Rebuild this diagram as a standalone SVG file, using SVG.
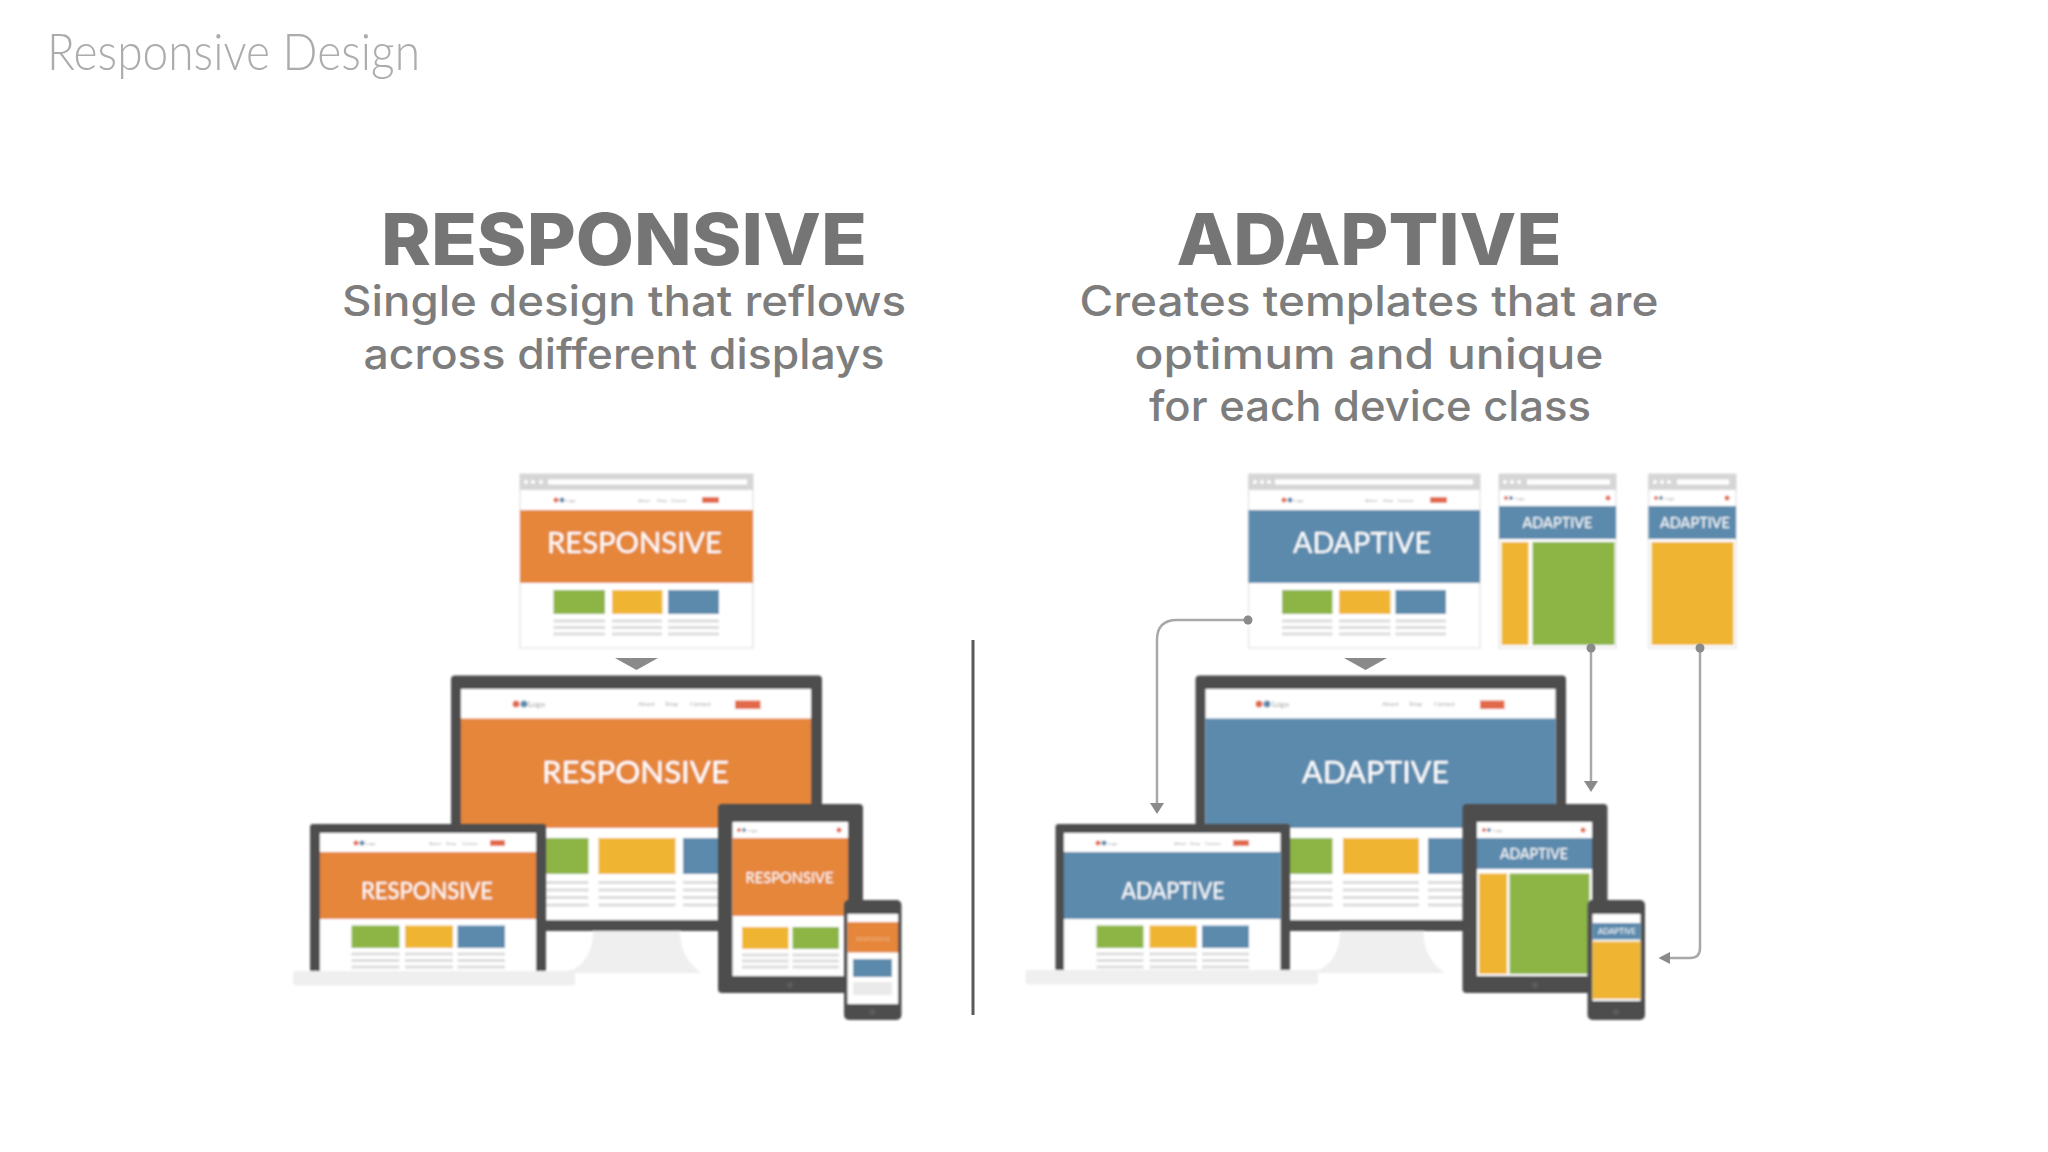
<svg xmlns="http://www.w3.org/2000/svg" width="2048" height="1152" viewBox="0 0 2048 1152">
<style>
text{font-family:"Lato","Liberation Sans",sans-serif}
.ttl{font-size:51px;font-weight:300;fill:#acacac}
.hd{font-family:"Inter","Liberation Sans",sans-serif;font-size:71px;font-weight:800;fill:#757575;text-anchor:middle}
.sub{font-family:"Inter","Liberation Sans",sans-serif;font-size:42px;font-weight:500;fill:#7d7d7d;text-anchor:middle}
.sc{fill:#fff;text-anchor:middle}
.mini{fill:#a8a8a8;font-size:4.5px}
.nav6{fill:#a8a8a8;font-size:6px}
.logo8{fill:#999;font-size:8px}
.dk{fill:#4d4d4d}.wh{fill:#fff}.or{fill:#e5863a}.bl{fill:#5b8aad}.gr{fill:#8db544}.ye{fill:#efb532}.rd{fill:#e2694a}.ch{fill:#d6d6d6}.bs{fill:#efefef}
.fr{fill:#fff;stroke:#e6e6e6;stroke-width:1.5}
.ln{stroke:#dcdcdc;stroke-width:3;fill:none}
.cn{stroke:#a8a8a8;stroke-width:2.5;fill:none}
.ah{fill:#8a8a8a}
.soft{filter:url(#b)}
</style>
<defs>
<filter id="b" x="-5%" y="-5%" width="110%" height="110%"><feGaussianBlur stdDeviation="0.8"/></filter>
</defs>
<rect width="2048" height="1152" fill="#fff"/>

<text id="title" class="ttl" x="47" y="70" textLength="373" lengthAdjust="spacingAndGlyphs">Responsive Design</text>

<g id="responsive-heading">
<text class="hd" x="624" y="265" textLength="486" lengthAdjust="spacingAndGlyphs">RESPONSIVE</text>
<text class="sub" x="624" y="316" textLength="564" lengthAdjust="spacingAndGlyphs">Single design that reflows</text>
<text class="sub" x="624" y="369" textLength="521" lengthAdjust="spacingAndGlyphs">across different displays</text>
</g>
<g id="adaptive-heading">
<text class="hd" x="1369" y="265" textLength="385" lengthAdjust="spacingAndGlyphs">ADAPTIVE</text>
<text class="sub" x="1369" y="316" textLength="579" lengthAdjust="spacingAndGlyphs">Creates templates that are</text>
<text class="sub" x="1369" y="369" textLength="469" lengthAdjust="spacingAndGlyphs">optimum and unique</text>
<text class="sub" x="1370" y="421" textLength="442" lengthAdjust="spacingAndGlyphs">for each device class</text>
</g>

<g id="resp-browser" class="soft">
<rect class="fr" x="520" y="474" width="233" height="174"/>
<rect class="ch" x="520" y="474" width="233" height="16"/>
<rect class="wh" x="548" y="479.500" width="199" height="5"/><circle class="wh" cx="526" cy="482" r="2"/><circle class="wh" cx="533" cy="482" r="2"/><circle class="wh" cx="541" cy="482" r="2"/>
<circle class="rd" cx="556" cy="500" r="2.500"/><circle class="bl" cx="562" cy="500" r="2.500"/><text class="mini" x="566" y="502">Logo</text>
<text class="mini" x="638" y="502">About</text><text class="mini" x="657" y="502">Shop</text><text class="mini" x="671" y="502">Contact</text>
<rect class="rd" x="702" y="497" width="17" height="6"/>
<rect class="or" x="520" y="510" width="233" height="73"/>
<text class="sc" x="634.500" y="553" font-size="28" textLength="175" lengthAdjust="spacingAndGlyphs">RESPONSIVE</text>
<rect class="gr" x="553.500" y="590" width="51.500" height="24"/><rect class="ye" x="612" y="590" width="50.500" height="24"/><rect class="bl" x="668" y="590" width="51" height="24"/>
<path class="ln" d="M553.500 621H605M612 621H662M668 621H719M553.500 627.500H605M612 627.500H662M668 627.500H719M553.500 634H605M612 634H662M668 634H719"/>
</g>
<polygon id="resp-down" class="ah" points="615,658 658,658 636.500,670"/>

<g id="resp-monitor" class="soft">
<path class="bs" d="M593 931C593 958 578 973 556 973H701C692 965 680 955 680 931Z"/>
<rect class="dk" x="451" y="675.500" width="371" height="255.500" rx="4"/>
<rect class="wh" x="461" y="689" width="350" height="231"/>
<circle class="rd" cx="516" cy="704" r="3.500"/><circle class="bl" cx="524" cy="704" r="3.500"/><text class="logo8" x="528" y="707">Logo</text>
<text class="nav6" x="638" y="706">About</text><text class="nav6" x="665" y="706">Shop</text><text class="nav6" x="690" y="706">Contact</text>
<rect class="rd" x="735" y="700.500" width="25.500" height="8.500"/>
<rect class="or" x="461" y="718.500" width="350" height="109.500"/>
<text class="sc" x="635.500" y="783" font-size="31" textLength="187" lengthAdjust="spacingAndGlyphs">RESPONSIVE</text>
<rect class="gr" x="530" y="838" width="58.500" height="36"/><rect class="ye" x="598.500" y="838" width="77" height="36"/><rect class="bl" x="683" y="838" width="60" height="36"/>
<path class="ln" d="M530 882.500H588.500M598.500 882.500H675.500M683 882.500H743M530 890H588.500M598.500 890H675.500M683 890H743M530 897.500H588.500M598.500 897.500H675.500M683 897.500H743M530 905H588.500M598.500 905H675.500M683 905H743"/>
</g>

<g id="resp-laptop" class="soft">
<rect class="dk" x="310" y="824" width="236" height="150" rx="3"/>
<rect class="wh" x="320" y="833" width="216" height="140"/>
<circle class="rd" cx="356" cy="843" r="2.500"/><circle class="bl" cx="362" cy="843" r="2.500"/><text class="mini" x="366" y="845">Logo</text>
<text class="mini" x="429" y="845">About</text><text class="mini" x="446" y="845">Shop</text><text class="mini" x="462" y="845">Contact</text>
<rect class="rd" x="490" y="840" width="15" height="6"/>
<rect class="or" x="320" y="852" width="216" height="67"/>
<text class="sc" x="427" y="899" font-size="24" textLength="132" lengthAdjust="spacingAndGlyphs">RESPONSIVE</text>
<rect class="gr" x="351.500" y="925.500" width="48" height="22.500"/><rect class="ye" x="405" y="925.500" width="48" height="22.500"/><rect class="bl" x="457.500" y="925.500" width="47.500" height="22.500"/>
<path class="ln" d="M351.500 954H399.500M405 954H453M457.500 954H505M351.500 960.500H399.500M405 960.500H453M457.500 960.500H505M351.500 967H399.500M405 967H453M457.500 967H505"/>
<rect class="bs" x="293" y="971" width="282" height="14.500" rx="3"/>
</g>

<g id="resp-tablet" class="soft">
<rect class="dk" x="718" y="804" width="145" height="189" rx="4"/>
<rect class="wh" x="732.500" y="822" width="115.500" height="154"/>
<circle class="rd" cx="739" cy="830" r="2"/><circle class="bl" cx="744" cy="830" r="2"/><text class="mini" x="748" y="832">Logo</text>
<circle class="rd" cx="839" cy="830" r="2.500"/>
<rect class="or" x="732.500" y="838" width="115.500" height="78"/>
<text class="sc" x="789.500" y="883" font-size="15.500" textLength="88" lengthAdjust="spacingAndGlyphs">RESPONSIVE</text>
<rect class="ye" x="742" y="927" width="46.500" height="22"/><rect class="gr" x="792.500" y="927" width="46.500" height="22"/>
<path class="ln" d="M742 955H788.500M792.500 955H839M742 961H788.500M792.500 961H839M742 967H788.500M792.500 967H839"/>
<circle cx="790" cy="985" r="3" fill="#5c5c5c"/>
</g>

<g id="resp-phone" class="soft">
<rect class="dk" x="844" y="900" width="57.500" height="120" rx="5"/>
<rect class="wh" x="847.500" y="914" width="50.500" height="90"/>
<rect class="or" x="847.500" y="922" width="50.500" height="30.500"/>
<text x="873" y="941" font-size="6" fill="#f0b98a" text-anchor="middle" textLength="34" lengthAdjust="spacingAndGlyphs">RESPONSIVE</text>
<rect class="bl" x="853" y="959" width="39" height="18"/>
<rect class="ch" x="853" y="982" width="39" height="13" opacity=".5"/>
<circle cx="872.500" cy="1012" r="3" fill="#5c5c5c"/>
</g>

<rect id="divider" x="971.500" y="640" width="3" height="375" fill="#5a5a5a"/>

<g id="adpt-browser" class="soft">
<rect class="fr" x="1248.500" y="474" width="231.500" height="174"/>
<rect class="ch" x="1248.500" y="474" width="231.500" height="16"/>
<rect class="wh" x="1275" y="479.500" width="198" height="5"/><circle class="wh" cx="1255" cy="482" r="2"/><circle class="wh" cx="1262" cy="482" r="2"/><circle class="wh" cx="1269" cy="482" r="2"/>
<circle class="rd" cx="1284" cy="500" r="2.500"/><circle class="bl" cx="1290" cy="500" r="2.500"/><text class="mini" x="1294" y="502">Logo</text>
<text class="mini" x="1365" y="502">About</text><text class="mini" x="1383" y="502">Shop</text><text class="mini" x="1398" y="502">Contact</text>
<rect class="rd" x="1430" y="497" width="17" height="6"/>
<rect class="bl" x="1248.500" y="510" width="231.500" height="73"/>
<text class="sc" x="1362" y="553" font-size="28" textLength="138" lengthAdjust="spacingAndGlyphs">ADAPTIVE</text>
<rect class="gr" x="1282" y="590" width="50.500" height="24"/><rect class="ye" x="1339" y="590" width="51.500" height="24"/><rect class="bl" x="1395.500" y="590" width="50.500" height="24"/>
<path class="ln" d="M1282 621H1332.500M1339 621H1390.500M1395.500 621H1446M1282 627.500H1332.500M1339 627.500H1390.500M1395.500 627.500H1446M1282 634H1332.500M1339 634H1390.500M1395.500 634H1446"/>
</g>
<polygon id="adpt-down" class="ah" points="1344,658 1387,658 1365.500,670"/>

<g id="adpt-tablet-template" class="soft">
<rect class="fr" x="1499" y="474" width="117" height="174"/>
<rect class="ch" x="1499" y="474" width="117" height="16"/>
<rect class="wh" x="1527" y="479.500" width="83" height="5"/><circle class="wh" cx="1505" cy="482" r="2"/><circle class="wh" cx="1512" cy="482" r="2"/><circle class="wh" cx="1519" cy="482" r="2"/>
<circle class="rd" cx="1506" cy="498" r="2"/><circle class="bl" cx="1511" cy="498" r="2"/><text class="mini" x="1515" y="500">Logo</text><circle class="rd" cx="1608" cy="498" r="2.500"/>
<rect class="bl" x="1499" y="506" width="117" height="33"/>
<text class="sc" x="1557.500" y="527.500" font-size="16" textLength="70" lengthAdjust="spacingAndGlyphs">ADAPTIVE</text>
<rect class="ye" x="1501.500" y="542" width="27" height="103"/><rect class="gr" x="1532.500" y="542" width="82" height="103"/>
</g>

<g id="adpt-phone-template" class="soft">
<rect class="fr" x="1648.500" y="474" width="87.500" height="174"/>
<rect class="ch" x="1648.500" y="474" width="87.500" height="16"/>
<rect class="wh" x="1677" y="479.500" width="52" height="5"/><circle class="wh" cx="1655" cy="482" r="2"/><circle class="wh" cx="1662" cy="482" r="2"/><circle class="wh" cx="1669" cy="482" r="2"/>
<circle class="rd" cx="1656" cy="498" r="2"/><circle class="bl" cx="1661" cy="498" r="2"/><text class="mini" x="1665" y="500">Logo</text><circle class="rd" cx="1727" cy="498" r="2.500"/>
<rect class="bl" x="1648.500" y="506" width="87.500" height="33"/>
<text class="sc" x="1695" y="527.500" font-size="16" textLength="70" lengthAdjust="spacingAndGlyphs">ADAPTIVE</text>
<rect class="ye" x="1651.500" y="542" width="82" height="103"/>
</g>

<g id="adpt-monitor" class="soft">
<path class="bs" d="M1340 931C1340 958 1325 973 1303 973H1445C1435 965 1423.500 955 1423.500 931Z"/>
<rect class="dk" x="1195.500" y="675.500" width="370.500" height="255.500" rx="4"/>
<rect class="wh" x="1205.500" y="689" width="350" height="231"/>
<circle class="rd" cx="1259" cy="704" r="3.500"/><circle class="bl" cx="1267" cy="704" r="3.500"/><text class="logo8" x="1272" y="707">Logo</text>
<text class="nav6" x="1382" y="706">About</text><text class="nav6" x="1409" y="706">Shop</text><text class="nav6" x="1434" y="706">Contact</text>
<rect class="rd" x="1480" y="700.500" width="24.500" height="8.500"/>
<rect class="bl" x="1205.500" y="718.500" width="350" height="109.500"/>
<text class="sc" x="1375.500" y="783" font-size="31" textLength="147" lengthAdjust="spacingAndGlyphs">ADAPTIVE</text>
<rect class="gr" x="1270" y="838" width="62.500" height="36"/><rect class="ye" x="1343" y="838" width="76" height="36"/><rect class="bl" x="1428" y="838" width="60" height="36"/>
<path class="ln" d="M1270 882.500H1332.500M1343 882.500H1419M1428 882.500H1488M1270 890H1332.500M1343 890H1419M1428 890H1488M1270 897.500H1332.500M1343 897.500H1419M1428 897.500H1488M1270 905H1332.500M1343 905H1419M1428 905H1488"/>
</g>

<g id="adpt-laptop" class="soft">
<rect class="dk" x="1055.500" y="824" width="234.500" height="150" rx="3"/>
<rect class="wh" x="1064" y="833" width="216.500" height="140"/>
<circle class="rd" cx="1098" cy="843" r="2.500"/><circle class="bl" cx="1104" cy="843" r="2.500"/><text class="mini" x="1108" y="845">Logo</text>
<text class="mini" x="1174" y="845">About</text><text class="mini" x="1190" y="845">Shop</text><text class="mini" x="1205" y="845">Contact</text>
<rect class="rd" x="1233" y="840" width="16" height="6"/>
<rect class="bl" x="1064" y="852" width="216.500" height="67"/>
<text class="sc" x="1173" y="899" font-size="24" textLength="103" lengthAdjust="spacingAndGlyphs">ADAPTIVE</text>
<rect class="gr" x="1096.500" y="925.500" width="47" height="22.500"/><rect class="ye" x="1149.500" y="925.500" width="47.500" height="22.500"/><rect class="bl" x="1202" y="925.500" width="47" height="22.500"/>
<path class="ln" d="M1096.500 954H1143.500M1149.500 954H1197M1202 954H1249M1096.500 960.500H1143.500M1149.500 960.500H1197M1202 960.500H1249M1096.500 967H1143.500M1149.500 967H1197M1202 967H1249"/>
<rect class="bs" x="1025.500" y="970" width="292.500" height="14.500" rx="3"/>
</g>

<g id="adpt-tablet" class="soft">
<rect class="dk" x="1462.500" y="804" width="145" height="189" rx="4"/>
<rect class="wh" x="1477" y="822" width="115" height="154"/>
<circle class="rd" cx="1484" cy="830" r="2"/><circle class="bl" cx="1489" cy="830" r="2"/><text class="mini" x="1493" y="832">Logo</text><circle class="rd" cx="1583" cy="830" r="2.500"/>
<rect class="bl" x="1477" y="838" width="115" height="31"/>
<text class="sc" x="1534" y="859" font-size="15.500" textLength="68" lengthAdjust="spacingAndGlyphs">ADAPTIVE</text>
<rect class="ye" x="1479" y="873.500" width="28" height="100.500"/><rect class="gr" x="1509.500" y="873.500" width="80" height="100.500"/>
<circle cx="1535" cy="985" r="3" fill="#5c5c5c"/>
</g>

<g id="adpt-phone" class="soft">
<rect class="dk" x="1587.500" y="900" width="57.500" height="120" rx="5"/>
<rect class="wh" x="1592.500" y="914" width="48" height="87"/>
<rect class="bl" x="1592.500" y="923" width="48" height="16.500"/>
<text class="sc" x="1617" y="934" font-size="7" textLength="38" lengthAdjust="spacingAndGlyphs">ADAPTIVE</text>
<rect class="ye" x="1592.500" y="941.500" width="48" height="57.500"/>
<circle cx="1616" cy="1012" r="3" fill="#5c5c5c"/>
</g>

<g id="connectors">
<path class="cn" d="M1248 620H1177Q1157 620 1157 640V803"/>
<circle class="ah" cx="1248" cy="620" r="4.500"/><polygon class="ah" points="1150,803 1164,803 1157,814"/>
<path class="cn" d="M1591 648V781"/>
<circle class="ah" cx="1591" cy="648" r="4.500"/><polygon class="ah" points="1584,781 1598,781 1591,792"/>
<path class="cn" d="M1700 648V948Q1700 958 1690 958H1669"/>
<circle class="ah" cx="1700" cy="648" r="4.500"/><polygon class="ah" points="1670,952 1670,964 1658.500,958"/>
</g>
</svg>
